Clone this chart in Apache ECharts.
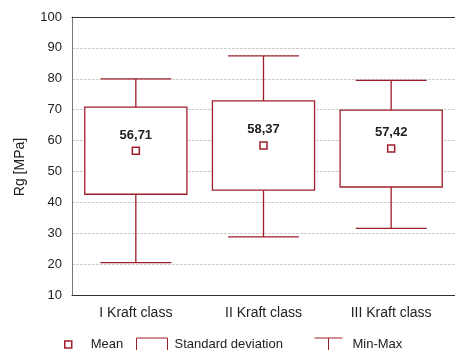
<!DOCTYPE html>
<html>
<head>
<meta charset="utf-8">
<script src="https://cdn.jsdelivr.net/npm/echarts@6/dist/echarts.min.js"></script>
<style>
  html, body { margin: 0; padding: 0; background: #fff; }
  #chart { width: 455px; height: 350px; }
</style>
</head>
<body>
<div id="chart"></div>
<script>
// Tensile strength Rg by Kraft class: mean, ±1 standard deviation, min-max range
const categories = ['I Kraft class', 'II Kraft class', 'III Kraft class'];
const means = [56.71, 58.37, 57.42];
const stdDevs = [14.1, 14.45, 12.45];
const mins = [20.5, 28.8, 31.6];
const maxs = [80.0, 87.4, 79.5];
const yTicks = [10, 20, 30, 40, 50, 60, 70, 80, 90, 100];

const RED = '#9e1f2b';
const FONT = '"Liberation Sans", Arial, sans-serif';

const boxData = categories.map((c, i) => [i, means[i] - stdDevs[i], means[i] + stdDevs[i]]);
const rangeData = categories.map((c, i) => [i, mins[i], maxs[i]]);
const meanData = categories.map((c, i) => [i, means[i]]);

function fmtComma(v) { return v.toFixed(2).replace('.', ','); }

const chart = echarts.init(document.getElementById('chart'), null, { renderer: 'canvas' });

chart.setOption({
  animation: false,
  backgroundColor: '#fff',
  textStyle: { fontFamily: FONT },
  grid: { left: 72, top: 17, width: 390, height: 278, containLabel: false },
  xAxis: [
    {
      type: 'category',
      data: categories,
      position: 'bottom',
      axisLine: { lineStyle: { color: '#333', width: 1 } },
      axisTick: { inside: true, length: 3, alignWithLabel: true, lineStyle: { color: '#555' } },
      axisLabel: { color: '#222', fontSize: 14, margin: 11, fontFamily: FONT }
    },
    {
      type: 'category',
      data: categories,
      position: 'top',
      axisLine: { lineStyle: { color: '#333', width: 1 } },
      axisTick: { inside: true, length: 3, alignWithLabel: true, lineStyle: { color: '#555' } },
      axisLabel: { show: false }
    }
  ],
  yAxis: {
    type: 'value',
    min: yTicks[0],
    max: yTicks[yTicks.length - 1],
    interval: 10,
    name: 'Rg [MPa]',
    nameLocation: 'middle',
    nameGap: 45,
    nameTextStyle: { color: '#222', fontSize: 14, fontFamily: FONT, padding: [0, 22, 0, 0] },
    axisLine: { show: true, lineStyle: { color: '#777', width: 1 } },
    axisTick: { show: false },
    axisLabel: { color: '#222', fontSize: 13, margin: 10, fontFamily: FONT },
    splitLine: { show: true, lineStyle: { color: '#cfcfcf', type: [3, 1], width: 1 } }
  },
  legend: [
    {
      left: 64, top: 338, padding: 0,
      itemWidth: 7, itemHeight: 7,
      textStyle: { color: '#222', fontSize: 13, fontFamily: FONT, padding: [0, 0, 0, 14] },
      data: [{ name: 'Mean', icon: 'rect', itemStyle: { color: '#fff', borderColor: RED, borderWidth: 1.5 } }],
      selectedMode: false
    },
    {
      left: 134, top: 335.5, padding: 0,
      itemWidth: 31, itemHeight: 13,
      textStyle: { color: '#222', fontSize: 13, fontFamily: FONT, padding: [0, 0, 0, 2] },
      data: [{ name: 'Standard deviation', icon: 'path://M0,13L0,0L31,0L31,13', itemStyle: { color: 'none', borderColor: RED, borderWidth: 1 } }],
      selectedMode: false
    },
    {
      left: 312, top: 335.5, padding: 0,
      itemWidth: 28, itemHeight: 13,
      textStyle: { color: '#222', fontSize: 13, fontFamily: FONT, padding: [0, 0, 0, 5] },
      data: [{ name: 'Min-Max', icon: 'path://M0,0L28,0M14,0L14,13', itemStyle: { color: 'none', borderColor: RED, borderWidth: 1 } }],
      selectedMode: false
    }
  ],
  series: [
    {
      // whiskers: caps at min and max joined by a vertical stem
      name: 'Min-Max',
      type: 'custom',
      z: 2,
      itemStyle: { color: RED },
      data: rangeData,
      renderItem: function (params, api) {
        const idx = api.value(0);
        const pMin = api.coord([idx, api.value(1)]);
        const pMax = api.coord([idx, api.value(2)]);
        const band = api.size([1, 0])[0];
        const half = band * 0.555 / 2;
        const style = { stroke: RED, lineWidth: 1.3, fill: null };
        return {
          type: 'group',
          children: [
            { type: 'line', shape: { x1: pMin[0], y1: pMin[1], x2: pMax[0], y2: pMax[1] }, style: style },
            { type: 'line', shape: { x1: pMin[0] - half, y1: pMin[1], x2: pMin[0] + half, y2: pMin[1] }, style: style },
            { type: 'line', shape: { x1: pMax[0] - half, y1: pMax[1], x2: pMax[0] + half, y2: pMax[1] }, style: style }
          ]
        };
      }
    },
    {
      // mean ± standard deviation box
      name: 'Standard deviation',
      type: 'custom',
      z: 3,
      itemStyle: { color: RED },
      data: boxData,
      renderItem: function (params, api) {
        const idx = api.value(0);
        const pLo = api.coord([idx, api.value(1)]);
        const pHi = api.coord([idx, api.value(2)]);
        const band = api.size([1, 0])[0];
        const w = band * 0.8;
        return {
          type: 'rect',
          shape: { x: pLo[0] - w / 2, y: pHi[1], width: w, height: pLo[1] - pHi[1] },
          style: { fill: '#fff', stroke: RED, lineWidth: 1.3 }
        };
      }
    },
    {
      name: 'Mean',
      type: 'scatter',
      z: 4,
      symbol: 'rect',
      symbolSize: 7,
      itemStyle: { color: '#fff', borderColor: RED, borderWidth: 1.5, opacity: 1 },
      data: meanData,
      label: {
        show: true,
        position: 'top',
        distance: 5,
        color: '#222',
        fontSize: 13,
        fontWeight: 'bold',
        fontFamily: FONT,
        formatter: function (p) { return fmtComma(p.value[1]); }
      }
    }
  ]
});
</script>
</body>
</html>
